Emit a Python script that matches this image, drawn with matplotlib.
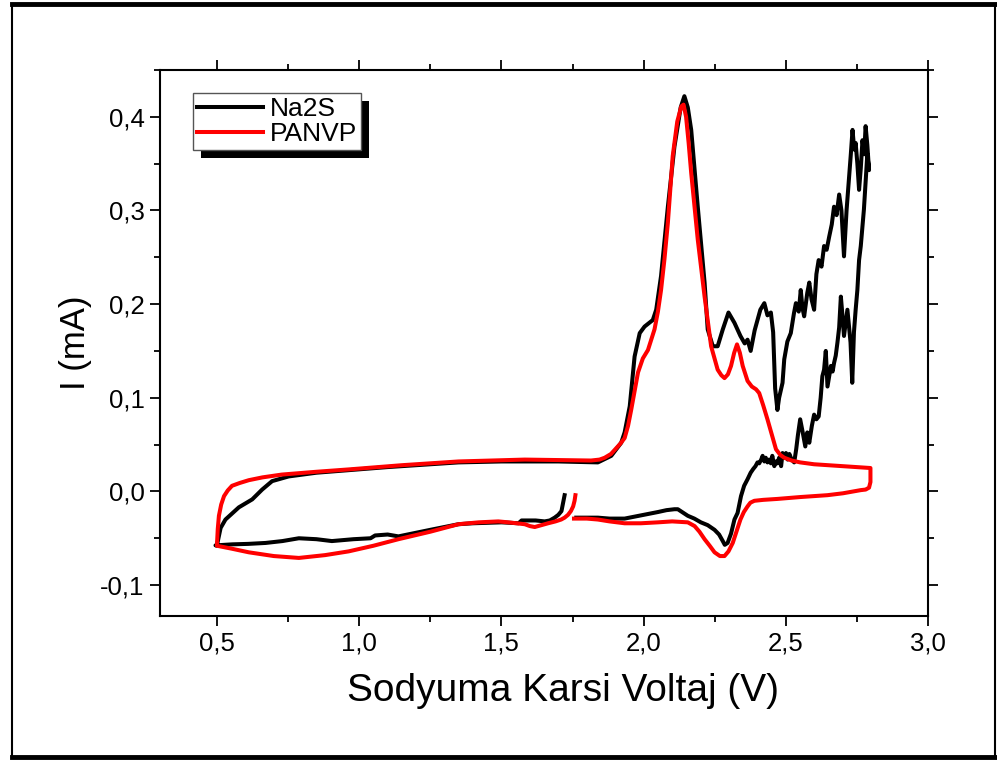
import numpy as np
import matplotlib.pyplot as plt
from matplotlib.ticker import MultipleLocator, FuncFormatter
from matplotlib.patches import Rectangle
from matplotlib.lines import Line2D

plt.rcParams['font.family'] = ['Liberation Sans', 'DejaVu Sans']

# Na2S cell: first cathodic sweep from open circuit down to 0.5 V
na2s_start_v = [1.722, 1.716, 1.711, 1.700, 1.687, 1.670, 1.652, 1.62, 1.571, 1.56, 1.50, 1.40, 1.349,
                1.25, 1.138, 1.10, 1.056, 1.04, 0.98, 0.904, 0.85, 0.788, 0.73, 0.671, 0.61, 0.554, 0.495]
na2s_start_i = [-0.004, -0.013, -0.021, -0.025, -0.028, -0.031, -0.032, -0.031, -0.031, -0.034, -0.033,
                -0.034, -0.035, -0.041, -0.048, -0.046, -0.047, -0.050, -0.051, -0.053, -0.051, -0.050,
                -0.053, -0.055, -0.056, -0.0565, -0.0576]

# Na2S cell: anodic sweep 0.5 -> 2.8 V
na2s_anodic_v = [0.50, 0.513, 0.53, 0.577, 0.624, 0.659, 0.694, 0.752, 0.85, 0.963, 1.10, 1.25, 1.349,
                 1.50, 1.70, 1.839, 1.886, 1.921, 1.933, 1.951, 1.968, 1.986, 2.003, 2.032, 2.044, 2.061,
                 2.085, 2.108, 2.130, 2.143, 2.155, 2.167, 2.19, 2.214, 2.225, 2.243, 2.26, 2.278, 2.298,
                 2.319, 2.34, 2.355, 2.365, 2.376, 2.39, 2.41, 2.424, 2.435, 2.447, 2.455, 2.462, 2.47,
                 2.476, 2.488, 2.494, 2.505, 2.517, 2.528, 2.535, 2.545, 2.552, 2.558, 2.564, 2.575,
                 2.582, 2.59, 2.599, 2.607, 2.615, 2.625, 2.634, 2.643, 2.652, 2.661, 2.669, 2.678,
                 2.687, 2.695, 2.704, 2.713, 2.722, 2.728, 2.734, 2.740, 2.745, 2.751, 2.757, 2.763,
                 2.769, 2.775, 2.78, 2.786, 2.792]
na2s_anodic_i = [-0.0576, -0.039, -0.030, -0.017, -0.0085, 0.002, 0.011, 0.016, 0.020, 0.0227, 0.026,
                 0.029, 0.031, 0.032, 0.032, 0.031, 0.038, 0.052, 0.063, 0.091, 0.144, 0.169, 0.176,
                 0.183, 0.194, 0.230, 0.304, 0.368, 0.410, 0.422, 0.410, 0.386, 0.304, 0.223, 0.173,
                 0.155, 0.155, 0.173, 0.191, 0.180, 0.166, 0.158, 0.162, 0.150, 0.172, 0.194, 0.201,
                 0.188, 0.191, 0.170, 0.110, 0.087, 0.100, 0.116, 0.141, 0.160, 0.169, 0.190, 0.201,
                 0.192, 0.215, 0.196, 0.187, 0.212, 0.223, 0.205, 0.194, 0.232, 0.247, 0.240, 0.262,
                 0.258, 0.272, 0.285, 0.304, 0.295, 0.317, 0.300, 0.251, 0.300, 0.336, 0.360, 0.386,
                 0.365, 0.372, 0.350, 0.322, 0.345, 0.375, 0.360, 0.390, 0.370, 0.343]

# Na2S cell: return cathodic sweep 2.8 V -> open circuit
na2s_cathodic_v = [2.792, 2.786, 2.780, 2.774, 2.768, 2.763, 2.757, 2.751, 2.745, 2.739, 2.733, 2.727,
                   2.722, 2.716, 2.710, 2.704, 2.698, 2.693, 2.687, 2.681, 2.675, 2.669, 2.664, 2.658,
                   2.652, 2.646, 2.640, 2.634, 2.628, 2.622, 2.615, 2.607, 2.599, 2.591, 2.582, 2.575,
                   2.568, 2.559, 2.550, 2.542, 2.536, 2.529, 2.520, 2.512, 2.506, 2.500, 2.494, 2.488,
                   2.483, 2.476, 2.470, 2.465, 2.459, 2.452, 2.447, 2.441, 2.435, 2.429, 2.424, 2.418,
                   2.413, 2.406, 2.400, 2.393, 2.385, 2.376, 2.365, 2.353, 2.342, 2.330, 2.319, 2.307,
                   2.295, 2.285, 2.278, 2.265, 2.249, 2.225, 2.201, 2.178, 2.155, 2.120, 2.108, 2.080,
                   2.050, 2.000, 1.933, 1.880, 1.839, 1.800, 1.763]
na2s_cathodic_i = [0.343, 0.360, 0.330, 0.301, 0.280, 0.262, 0.247, 0.215, 0.194, 0.170, 0.116, 0.159,
                   0.175, 0.194, 0.180, 0.166, 0.190, 0.208, 0.175, 0.159, 0.145, 0.137, 0.128, 0.134,
                   0.123, 0.112, 0.150, 0.130, 0.123, 0.100, 0.080, 0.077, 0.082, 0.070, 0.052, 0.063,
                   0.048, 0.063, 0.077, 0.060, 0.045, 0.031, 0.034, 0.040, 0.034, 0.041, 0.036, 0.041,
                   0.027, 0.036, 0.030, 0.032, 0.027, 0.038, 0.030, 0.034, 0.031, 0.036, 0.032, 0.038,
                   0.034, 0.030, 0.031, 0.027, 0.024, 0.020, 0.013, 0.006, -0.005, -0.023, -0.030,
                   -0.045, -0.055, -0.057, -0.053, -0.046, -0.041, -0.036, -0.033, -0.029, -0.026,
                   -0.019, -0.019, -0.020, -0.022, -0.025, -0.029, -0.029, -0.028, -0.028, -0.028]

# PANVP cell, same three sweeps
panvp_start_v = [1.760, 1.757, 1.752, 1.744, 1.734, 1.722, 1.710, 1.690, 1.664, 1.640, 1.617, 1.600,
                 1.582, 1.524, 1.489, 1.420, 1.349, 1.25, 1.138, 1.05, 0.963, 0.88, 0.788, 0.70, 0.612,
                 0.55, 0.50]
panvp_start_i = [-0.004, -0.010, -0.016, -0.021, -0.025, -0.028, -0.030, -0.032, -0.034, -0.036, -0.038,
                 -0.037, -0.035, -0.033, -0.032, -0.033, -0.035, -0.043, -0.051, -0.058, -0.064, -0.068,
                 -0.071, -0.069, -0.065, -0.061, -0.058]

panvp_anodic_v = [0.500, 0.503, 0.507, 0.515, 0.525, 0.538, 0.553, 0.580, 0.612, 0.66, 0.728, 0.85,
                  0.963, 1.15, 1.349, 1.582, 1.815, 1.845, 1.863, 1.885, 1.90, 1.918, 1.933, 1.945,
                  1.956, 1.968, 1.98, 1.997, 2.015, 2.038, 2.050, 2.061, 2.073, 2.085, 2.102, 2.118,
                  2.132, 2.140, 2.149, 2.158, 2.167, 2.19, 2.214, 2.237, 2.26, 2.273, 2.284, 2.296,
                  2.307, 2.318, 2.328, 2.338, 2.348, 2.365, 2.380, 2.395, 2.406, 2.420, 2.435, 2.450,
                  2.465, 2.480, 2.494, 2.52, 2.55, 2.599, 2.70, 2.797]
panvp_anodic_i = [-0.058, -0.040, -0.026, -0.014, -0.005, 0.001, 0.006, 0.009, 0.012, 0.015, 0.018,
                  0.021, 0.0235, 0.028, 0.032, 0.034, 0.033, 0.034, 0.036, 0.040, 0.045, 0.051, 0.057,
                  0.070, 0.087, 0.107, 0.127, 0.142, 0.151, 0.173, 0.192, 0.215, 0.248, 0.287, 0.358,
                  0.395, 0.411, 0.413, 0.400, 0.372, 0.340, 0.269, 0.208, 0.155, 0.130, 0.124, 0.121,
                  0.125, 0.134, 0.148, 0.157, 0.148, 0.134, 0.118, 0.112, 0.109, 0.105, 0.092, 0.077,
                  0.061, 0.045, 0.039, 0.036, 0.033, 0.031, 0.029, 0.027, 0.025]

panvp_cathodic_v = [2.797, 2.797, 2.792, 2.780, 2.763, 2.70, 2.646, 2.55, 2.47, 2.42, 2.389, 2.375,
                    2.365, 2.352, 2.34, 2.327, 2.313, 2.298, 2.284, 2.268, 2.249, 2.232, 2.214, 2.196,
                    2.179, 2.155, 2.10, 2.05, 1.99, 1.933, 1.88, 1.839, 1.80, 1.755]
panvp_cathodic_i = [0.025, 0.010, 0.004, 0.002, 0.0014, -0.002, -0.004, -0.006, -0.008, -0.009, -0.010,
                    -0.012, -0.016, -0.022, -0.030, -0.042, -0.055, -0.064, -0.069, -0.069, -0.065,
                    -0.058, -0.051, -0.043, -0.037, -0.033, -0.032, -0.033, -0.034, -0.034, -0.032,
                    -0.030, -0.029, -0.029]

na2s_v = na2s_start_v + na2s_anodic_v + na2s_cathodic_v
na2s_i = na2s_start_i + na2s_anodic_i + na2s_cathodic_i
panvp_v = panvp_start_v + panvp_anodic_v + panvp_cathodic_v
panvp_i = panvp_start_i + panvp_anodic_i + panvp_cathodic_i

fig = plt.figure(figsize=(9.97, 7.62), dpi=100)
ax = fig.add_axes([0.1605, 0.1916, 0.7705, 0.7166])

ax.plot(na2s_v, na2s_i, color='black', lw=2.9, label='Na2S')
ax.plot(panvp_v, panvp_i, color='red', lw=2.9, label='PANVP')

ax.set_xlim(0.3, 3.0)
ax.set_ylim(-0.133, 0.45)
ax.xaxis.set_major_locator(MultipleLocator(0.5))
ax.xaxis.set_minor_locator(MultipleLocator(0.25))
ax.yaxis.set_major_locator(MultipleLocator(0.1))
ax.yaxis.set_minor_locator(MultipleLocator(0.05))

comma = FuncFormatter(lambda v, pos: '{:.1f}'.format(v).replace('.', ',').replace('-0,0', '0,0'))
ax.xaxis.set_major_formatter(comma)
ax.yaxis.set_major_formatter(comma)

ax.tick_params(which='both', direction='out', top=True, right=True, width=1.3,
               labelsize=18.5, pad=4)
ax.tick_params(which='major', length=7)
ax.tick_params(which='minor', length=4.5)
for s in ax.spines.values():
    s.set_linewidth(1.5)

ax.set_xlabel('Sodyuma Karsi Voltaj (V)', fontsize=28, labelpad=13, x=0.525)
ax.set_ylabel('I (mA)', fontsize=25, labelpad=6)

leg = ax.legend(loc='upper left', bbox_to_anchor=(0.043, 0.958), fontsize=19, frameon=True,
                fancybox=False, framealpha=1, edgecolor='#555555', borderpad=0.15,
                labelspacing=0.05, handlelength=2.5, handletextpad=0.25, borderaxespad=0)
leg.get_frame().set_linewidth(1.0)
leg.set_zorder(10)

# solid drop shadow behind the legend box
fig.canvas.draw()
bb = leg.get_window_extent()
shadow = Rectangle((bb.x0 + 8, bb.y0 - 8), bb.width, bb.height, transform=None,
                   facecolor='black', edgecolor='none', zorder=9)
ax.add_artist(shadow)

# page frame
W, H = 997, 762
fig.add_artist(Line2D([12 / W, 995 / W], [1 - 4 / H, 1 - 4 / H], color='black', lw=3.5))
fig.add_artist(Line2D([12 / W, 995 / W], [5 / H, 5 / H], color='black', lw=3.5))
fig.add_artist(Line2D([12 / W, 12 / W], [5 / H, 1 - 4 / H], color='black', lw=1.5))
fig.add_artist(Line2D([995 / W, 995 / W], [5 / H, 1 - 4 / H], color='black', lw=1.5))

fig.savefig('out.png', dpi=100)
